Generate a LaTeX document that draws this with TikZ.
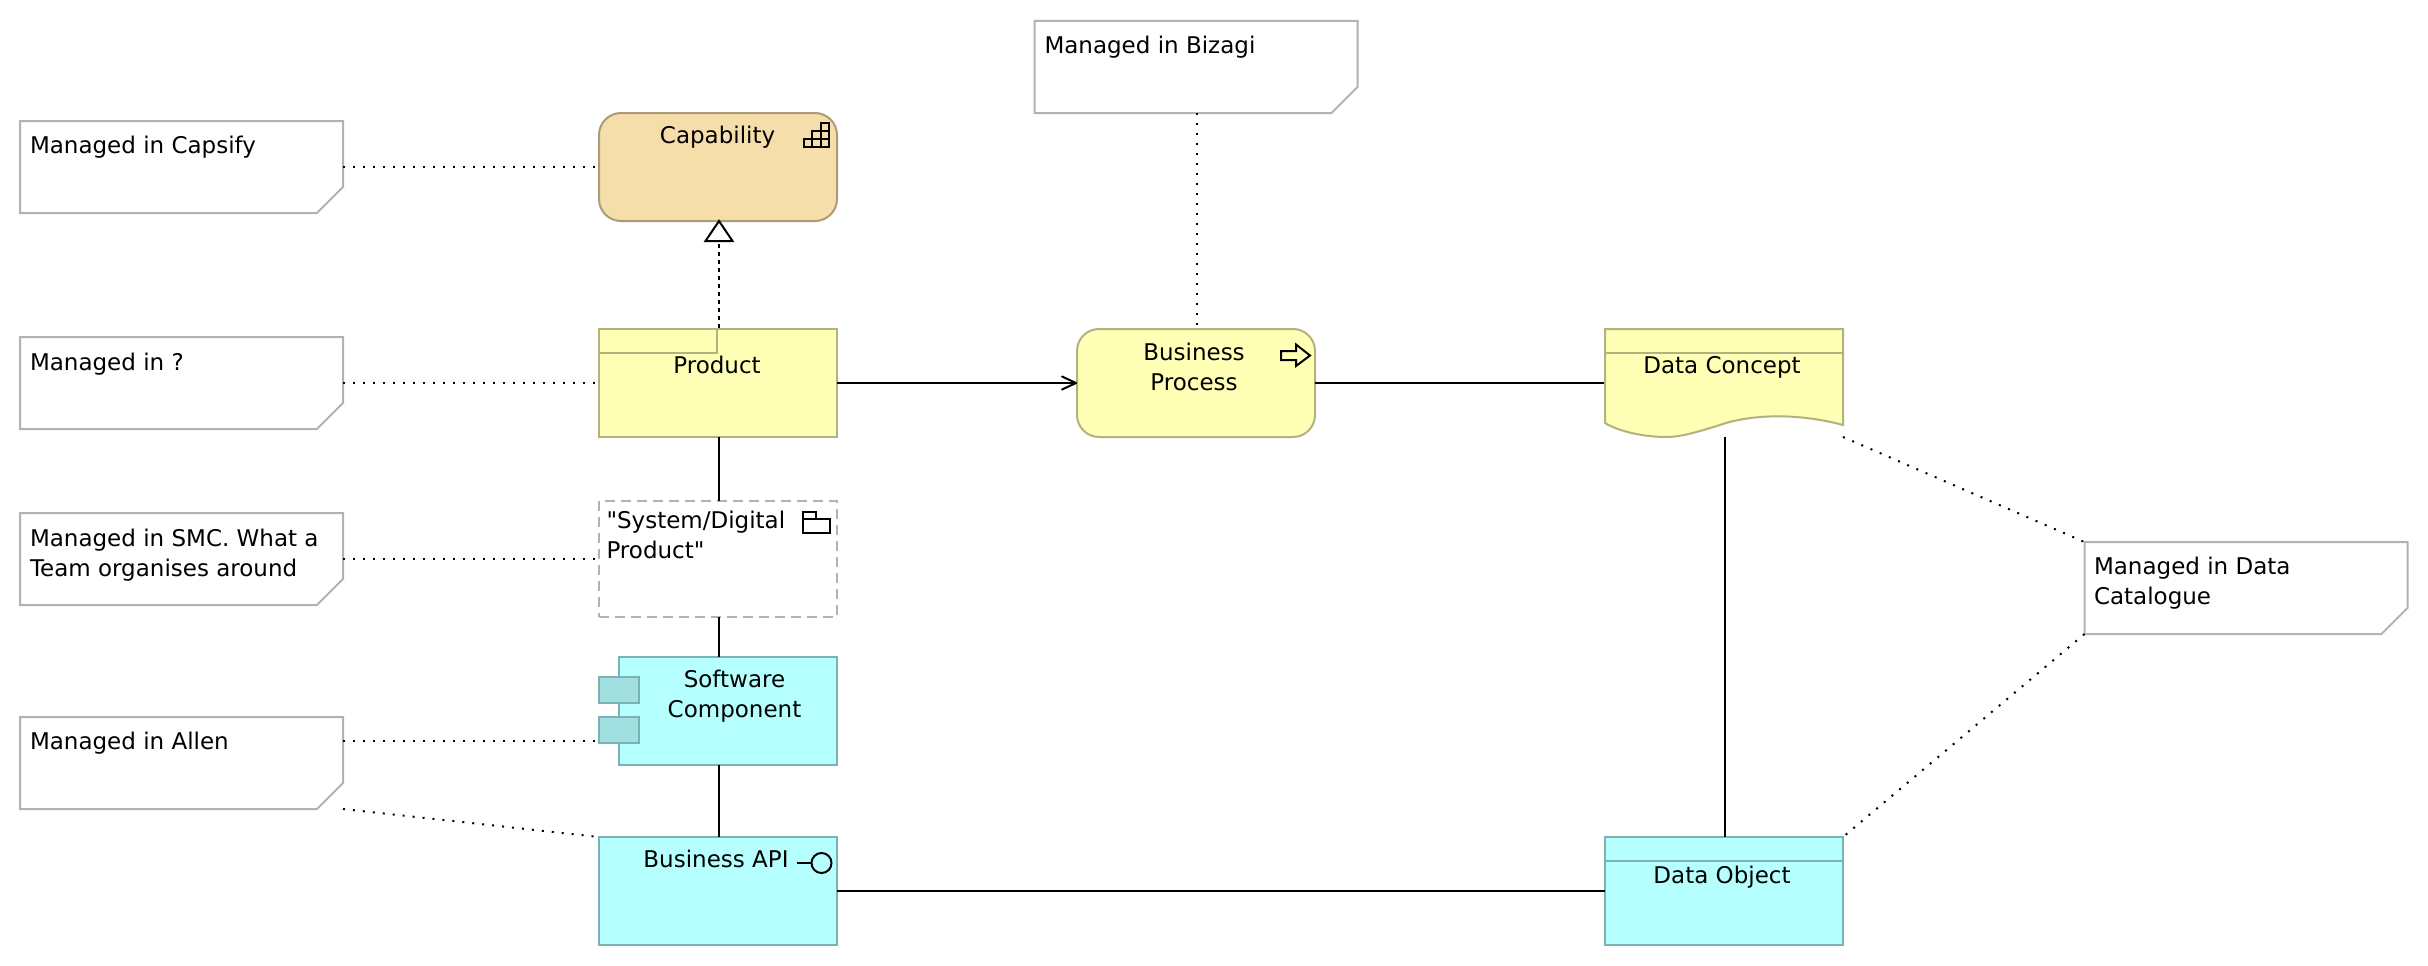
\documentclass[tikz,border=0pt]{standalone}
\usepackage{fontspec}
\setmainfont[Ligatures=TeXOff]{DejaVu Sans}
\usetikzlibrary{arrows.meta}
\definecolor{noteb}{HTML}{B2B2B2}
\definecolor{capf}{HTML}{F5DEAA}
\definecolor{capb}{HTML}{AC9B77}
\definecolor{yelf}{HTML}{FFFFB5}
\definecolor{yelb}{HTML}{B2B27E}
\definecolor{cyaf}{HTML}{B5FFFF}
\definecolor{cyab}{HTML}{7EB2B2}
\definecolor{cyad}{HTML}{A1E0E0}
\tikzset{
  x=1pt,y=-1pt,
  box/.style={rectangle,inner sep=0pt,outer sep=0pt,line width=2pt,minimum width=#1},
  box/.default=238pt,
  capbox/.style={box,minimum height=108pt,draw=capb,fill=capf,rounded corners=22pt},
  yelbox/.style={box,minimum height=108pt,draw=yelb,fill=yelf},
  procbox/.style={yelbox,rounded corners=22pt},
  cyabox/.style={box,minimum height=108pt,draw=cyab,fill=cyaf},
  groupbox/.style={box,minimum height=116pt,draw=noteb,dash pattern=on 10pt off 6pt},
  anchorbox/.style={rectangle,inner sep=0pt,outer sep=0pt,minimum width=323pt,minimum height=92pt},
  notepath/.style={draw=noteb,fill=white,line width=2pt,line join=miter},
  txt/.style={inner sep=0pt,outer sep=0pt,font=\fontsize{23}{30}\selectfont,text=black},
  ctxt/.style={txt,align=center},
  ltxt/.style={txt,align=left},
  conn/.style={draw=black,line width=2pt},
  assoc/.style={draw=black,line width=2pt,dash pattern=on 2pt off 8pt},
  real/.style={draw=black,line width=2pt,dash pattern=on 4.5pt off 3.5pt},
  icon/.style={draw=black,line width=2pt,fill=none,line join=miter},
}
\newcommand{\notebox}[3]{%
  \node[anchorbox] (#1) at (#2,#3) {};
  \draw[notepath] (#1.north west) -- (#1.north east) -- ([yshift=26pt]#1.south east)
    -- ([xshift=-26pt]#1.south east) -- (#1.south west) -- cycle;
}
\begin{document}
\begin{tikzpicture}
\useasboundingbox (0,0) rectangle (2428,966);
\notebox{ncap}{181.5}{167}
\notebox{nq}{181.5}{383}
\notebox{nsmc}{181.5}{559}
\notebox{nallen}{181.5}{763}
\notebox{nbiz}{1196}{67}
\notebox{ndata}{2246}{588}

\node[capbox,box] (cap) at (718,167) {};
\node[yelbox] (prod) at (718,383) {};
\node[procbox] (proc) at (1196,383) {};
\node[yelbox,draw=none,fill=none] (dc) at (1724,383) {};
\node[groupbox] (sys) at (718,559) {};
\node[cyabox,minimum width=218pt] (sw) at (728,711) {};
\node[cyabox] (api) at (718,891) {};
\node[cyabox] (dobj) at (1724,891) {};

% connectors
\coordinate (swl) at (599,740.5);
\coordinate (dcb) at (1724.5,437);
\coordinate (dcr) at (1843,437);
\coordinate (capb1) at (719,221);
\coordinate (prodt) at (719,328);
\coordinate (trib) at (719,241);
\coordinate (bizl) at (1197,113);
\draw[conn] (719,437) coordinate (p1) -- (p1 |- sys.north);
\draw[conn] (719,617) coordinate (p2) -- (p2 |- sw.north);
\draw[conn] (719,765) coordinate (p3) -- (p3 |- api.north);
\draw[conn,-{Straight Barb[length=14pt,width=13pt,line width=2pt,round]}] (prod) -- (proc);
\draw[conn] (proc) -- (dc.west);
\draw[conn] (api) -- (dobj);
\draw[conn] (dcb) -- (dcb |- dobj.north);
\draw[real] (prodt) -- (trib);
\draw[icon,fill=white] (capb1) -- (705.5,241) -- (732.5,241) -- cycle;
\draw[assoc] (ncap.east |- cap.west) -- (cap.west);
\draw[assoc] (nq.east |- prod.west) -- (prod.west);
\draw[assoc] (nsmc.east |- sys.west) -- (sys.west);
\draw[assoc] (nallen.east |- swl) -- (swl);
\draw[assoc] (nallen.south east) -- (api.north west);
\draw[assoc] (bizl) -- (bizl |- proc.north);
\draw[assoc] (dcr) -- (ndata.north west);
\draw[assoc] (ndata.south west) -- (dobj.north east);

% node details
\draw[yelb,line width=2pt] (prod.north west) ++(0,24) -| (717,328.7);
\draw[fill=yelf,draw=yelb,line width=2pt]
  (1605,329) -- (1843,329) -- (1843,425)
  .. controls (1810,416) and (1765,412) .. (1726,423)
  .. controls (1695,433) and (1680,437) .. (1666,437)
  .. controls (1645,437) and (1620,432) .. (1605,423) -- cycle;
\draw[yelb,line width=2pt] (1605,353) -- (1843,353);
\draw[cyab,line width=2pt] (dobj.north west) ++(0,24) -- ++(238,0);
\draw[draw=cyab,fill=cyad,line width=2pt] (599,677) rectangle (639,703);
\draw[draw=cyab,fill=cyad,line width=2pt] (599,717) rectangle (639,743);

% icons
\draw[icon] (804,139) rectangle (829,147);
\draw[icon] (812.3,130.7) rectangle (829,147);
\draw[icon] (820.6,122.5) rectangle (829,147);
\draw[icon] (804,147) -- (804,139) -- (829,139);
\draw[icon] (812.3,139) -- (812.3,147) (820.6,139) -- (820.6,147);
\draw[icon] (1281,351) -- (1296,351) -- (1296,344.5) -- (1310,355.5) -- (1296,366) -- (1296,360) -- (1281,360) -- cycle;
\draw[icon] (803,519) rectangle (829.5,533);
\draw[icon] (803,519) -- (803,512) -- (816,512) -- (816,519);
\draw[icon] (796.5,863) -- (811,863);
\draw[icon] (821.5,863) circle[radius=10pt];

% labels
\node[ctxt,anchor=base] (tcap) at (717.6,143) {Capability};
\node[ctxt,anchor=base] (tprod) at (717,373) {Product};
\node[ctxt,anchor=base] (tproc) at (1194,390) {Business\\Process};
\node[ctxt,anchor=base] (tdc) at (1722,373) {Data Concept};
\node[ltxt,anchor=base west] (tsys) at (606.5,558) {"System/Digital\\Product"};
\node[ctxt,anchor=base] (tsw) at (734.5,717) {Software\\Component};
\node[ctxt,anchor=base] (tapi) at (716,867.5) {Business API};
\node[ctxt,anchor=base] (tdo) at (1722,883) {Data Object};
\node[ltxt,anchor=base west] (t1) at (30,153.5) {Managed in Capsify};
\node[ltxt,anchor=base west] (t2) at (30,370) {Managed in ?};
\node[ltxt,anchor=base west] (t3) at (30,576) {Managed in SMC. What a\\Team organises around};
\node[ltxt,anchor=base west] (t4) at (30,749.5) {Managed in Allen};
\node[ltxt,anchor=base west] (t5) at (1044.5,54) {Managed in Bizagi};
\node[ltxt,anchor=base west] (t6) at (2094,604) {Managed in Data\\Catalogue};
\end{tikzpicture}
\end{document}
